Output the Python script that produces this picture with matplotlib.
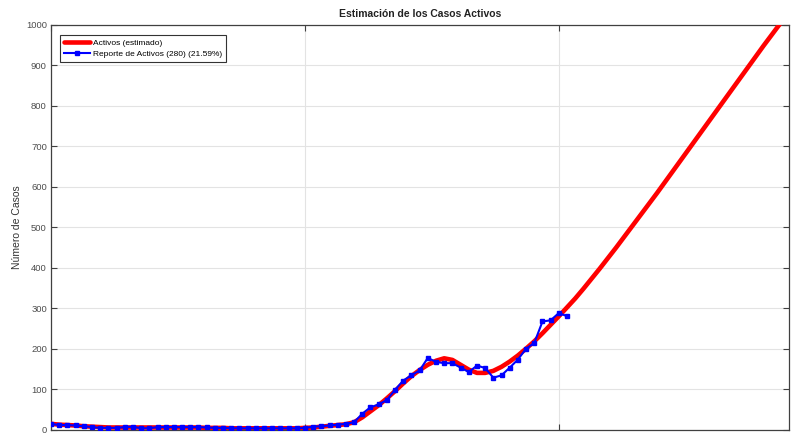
import matplotlib
matplotlib.use("Agg")
import matplotlib.pyplot as plt
import numpy as np

plt.rcParams['font.family'] = ['Liberation Sans', 'DejaVu Sans']

# Reported active cases (one per day, days 0..63)
reported_days = list(range(64))
reported = [14, 11, 11, 10, 8, 6, 4, 4, 4, 6, 7, 3, 3, 6, 6, 6,
            6, 6, 6, 5, 4, 4, 3, 3, 3, 3, 3, 3, 3, 3, 3, 4,
            7, 8, 10, 12, 14, 18, 39, 55, 62, 73, 98, 121, 134, 146,
            177, 167, 164, 164, 153, 142, 158, 152, 128, 134, 153, 173,
            200, 214, 267, 270, 288, 280]

# Estimated active cases (days 0..89)
est_days = list(range(90))
estimated = [14, 12, 11, 10, 8, 7, 6, 5, 5, 5, 5, 5, 5, 5, 5, 5,
             5, 5, 5, 4, 4, 4, 3, 3, 3, 3, 3, 3, 3, 3, 3, 4,
             5, 7, 9, 11, 13, 18, 30, 45, 60, 77, 95, 114, 132, 147,
             160, 170, 176, 172, 160, 148, 140, 140, 145, 155, 168, 183,
             200, 218, 238, 259, 280, 302, 324, 348, 373, 398, 424, 450,
             477, 504, 531, 558, 585, 613, 641, 669, 697, 725, 753, 781,
             809, 837, 865, 893, 921, 949, 976, 1003]

fig = plt.figure(figsize=(7.95, 4.36), dpi=100)
ax = fig.add_axes([0.0642, 0.0149, 0.9283, 0.9278])

ax.plot(est_days, estimated, color='#ff0000', lw=3.3, label='Activos (estimado)',
        solid_capstyle='round', zorder=3)
ax.plot(reported_days, reported, color='#0000ff', lw=1.5, marker='s', ms=3.2,
        label='Reporte de Activos (280) (21.59%)', zorder=4)

ax.set_xlim(0, 90.1)
ax.set_ylim(0, 1000)
ax.set_xticks([0, 31, 62])
ax.set_xticklabels([])
ax.set_yticks(np.arange(0, 1001, 100))
ax.tick_params(axis='both', direction='in', length=4, width=0.8, colors='#404040',
               labelcolor='#4d4d4d', labelsize=6.8, top=True, right=True)
ax.tick_params(axis='y', pad=3)
ax.grid(True, color='#e3e3e3', lw=0.8)
ax.set_axisbelow(True)
for s in ax.spines.values():
    s.set_color('#404040')
    s.set_linewidth(0.9)

ax.set_ylabel('Número de Casos', fontsize=7.5, color='#333333', labelpad=3)
ax.set_title('Estimación de los Casos Activos', fontsize=7.5, fontweight='bold',
             color='#222222', pad=6)

leg = ax.legend(loc='upper left', fontsize=6.0, frameon=True, fancybox=False,
                edgecolor='#333333', framealpha=1, handlelength=3.2,
                borderpad=0.45, labelspacing=0.45, handletextpad=0.35,
                borderaxespad=0, bbox_to_anchor=(0.012, 0.975))
leg.get_frame().set_linewidth(0.8)

fig.savefig('out.png', dpi=100)
